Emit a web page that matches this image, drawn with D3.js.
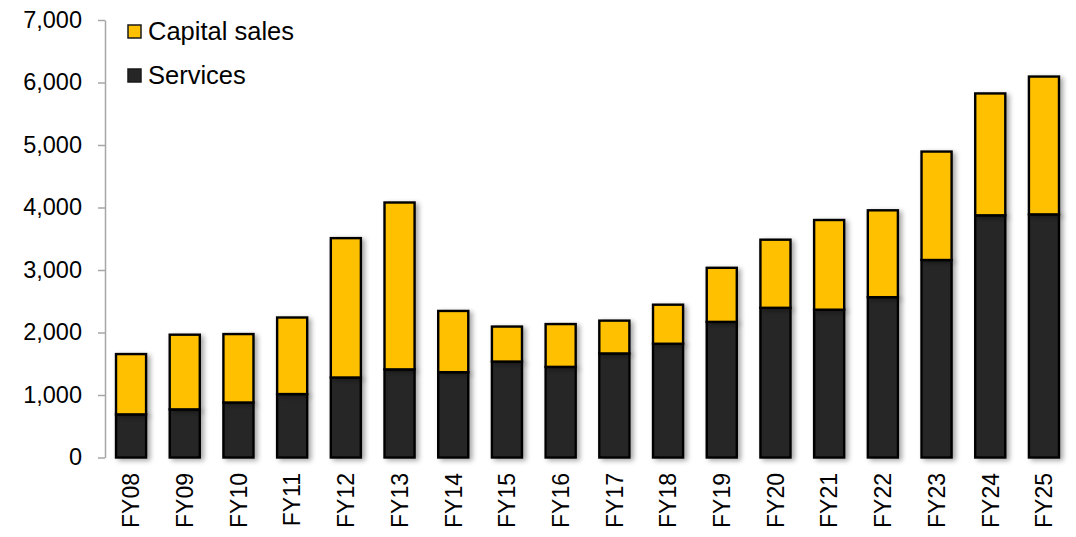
<!DOCTYPE html>
<html>
<head>
<meta charset="utf-8">
<script src="https://cdn.jsdelivr.net/npm/d3@7"></script>
<style>
  html, body { margin: 0; padding: 0; background: #fff; }
  svg { display: block; font-family: "Liberation Sans", Arial, Helvetica, sans-serif; }
</style>
</head>
<body>
<svg id="chart" width="1076" height="537"></svg>
<script>
const categories = ["FY08","FY09","FY10","FY11","FY12","FY13","FY14","FY15","FY16","FY17","FY18","FY19","FY20","FY21","FY22","FY23","FY24","FY25"];
const services = [690, 770, 880, 1015, 1280, 1410, 1365, 1535, 1450, 1665, 1820, 2170, 2395, 2365, 2565, 3160, 3875, 3890];
const capitalSales = [965, 1195, 1095, 1225, 2230, 2670, 980, 560, 685, 525, 625, 865, 1090, 1435, 1390, 1735, 1950, 2205];
const yTicks = [0, 1000, 2000, 3000, 4000, 5000, 6000, 7000];
const seriesNames = ["Capital sales", "Services"];
const colors = { "Capital sales": "#FFC000", "Services": "#262626" };

const svg = d3.select("#chart");

const defs = svg.append("defs");
const f = defs.append("filter").attr("id", "shadow").attr("x", "-30%").attr("y", "-10%").attr("width", "160%").attr("height", "130%");
f.append("feDropShadow").attr("dx", 3).attr("dy", 2).attr("stdDeviation", 2.5)
  .attr("flood-color", "#000").attr("flood-opacity", 0.35);

const x = d3.scaleBand().domain(categories).range([105, 1070]).paddingInner(0.44).paddingOuter(0.205);
const y = d3.scaleLinear().domain([0, 7000]).range([457.5, 20]);

// y axis
const yAxis = d3.axisLeft(y).tickValues(yTicks).tickFormat(d3.format(",")).tickSize(7).tickSizeOuter(0).tickPadding(16);
const gy = svg.append("g").attr("transform", "translate(105,0)").call(yAxis);
gy.select(".domain").attr("stroke", "#a6a6a6").attr("stroke-width", 1.5);
gy.selectAll(".tick line").attr("stroke", "#a6a6a6").attr("stroke-width", 1.5);
gy.selectAll(".tick text").attr("font-size", 23.5).attr("fill", "#000").attr("dy", "0.3em")
  .attr("font-family", "Liberation Sans, Arial, sans-serif");

// stacked data
const rows = categories.map((c, i) => ({ cat: c, "Services": services[i], "Capital sales": capitalSales[i] }));
const stack = d3.stack().keys(["Services", "Capital sales"]);
const stacked = stack(rows);

const barsG = svg.append("g");
stacked.forEach(layer => {
  barsG.append("g")
    .selectAll("rect")
    .data(layer)
    .join("rect")
    .attr("x", d => x(d.data.cat))
    .attr("width", x.bandwidth())
    .attr("y", d => y(d[1]))
    .attr("height", d => y(d[0]) - y(d[1]))
    .attr("fill", colors[layer.key])
    .attr("stroke", "#000")
    .attr("stroke-width", 2.4)
    .attr("filter", "url(#shadow)");
});

// x labels
svg.append("g").selectAll("text")
  .data(categories)
  .join("text")
  .attr("transform", d => `translate(${x(d) + x.bandwidth() / 2},473) rotate(-90)`)
  .attr("text-anchor", "end")
  .attr("dy", "0.36em")
  .attr("font-size", 23)
  .attr("fill", "#000")
  .text(d => d);

// legend
const legend = svg.append("g");
seriesNames.forEach((name, i) => {
  const gy0 = 25 + i * 44;
  legend.append("rect")
    .attr("x", 128).attr("y", gy0)
    .attr("width", 13).attr("height", 13)
    .attr("fill", colors[name]).attr("stroke", "#1a1a1a").attr("stroke-width", 1.5);
  legend.append("text")
    .attr("x", 148).attr("y", gy0 + 15)
    .attr("font-size", 25.5)
    .attr("fill", "#000")
    .text(name);
});
</script>
</body>
</html>
